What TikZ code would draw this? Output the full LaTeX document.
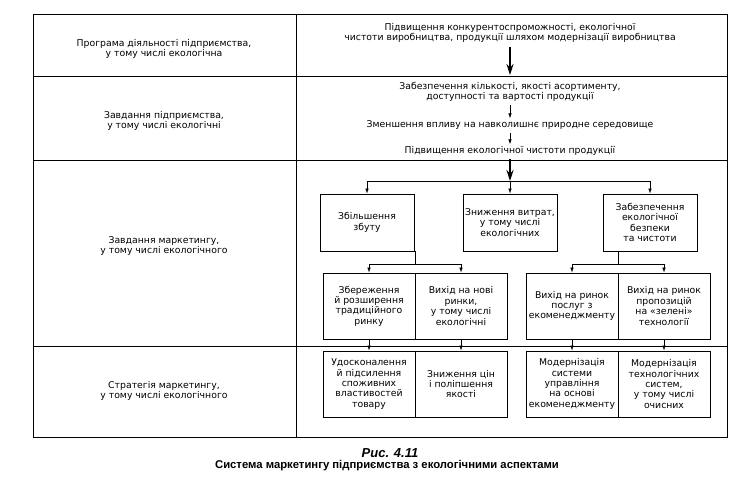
\documentclass[tikz,border=0pt]{standalone}
\usepackage{fontspec}
\setmainfont{DejaVu Sans}
\newfontfamily\capfont{Liberation Sans}
\usetikzlibrary{arrows.meta,calc}
\begin{document}
\begin{tikzpicture}[x=1pt,y=-1pt,
  every node/.style={font=\fontsize{9.3}{10.4}\selectfont, align=center, inner sep=0pt},
  tabline/.style={line width=0.8pt},
  boxstyle/.style={draw, line width=0.8pt, minimum width=94pt, minimum height=57pt},
  cellstyle/.style={draw, line width=0.8pt, minimum width=92pt, minimum height=66pt},
  bigarrow/.style={line width=1.5pt, -{Stealth[length=11pt,width=7pt]}},
  smallarrow/.style={line width=0.6pt, -{Latex[length=5pt,width=3.5pt]}},
  thinline/.style={line width=0.6pt}]
\useasboundingbox (0,0) rectangle (736,477);
% table
\draw[tabline] (33,14) rectangle (727,437);
\draw[tabline] (296,14) -- (296,437);
\draw[tabline] (33,76) -- (727,76);
\draw[tabline] (33,160) -- (727,160);
\draw[tabline] (33,346) -- (727,346);
% left column
\node (l1) at (164,49) {Програма діяльності підприємства,\\у тому числі екологічна};
\node (l2) at (164,121) {Завдання підприємства,\\у тому числі екологічні};
\node (l3) at (164,246) {Завдання маркетингу,\\у тому числі екологічного};
\node (l4) at (164,391) {Стратегія маркетингу,\\у тому числі екологічного};
% right column rows 1-2
\node (r1) at (510,33) {Підвищення конкурентоспроможності, екологічної\\чистоти виробництва, продукції шляхом модернізації виробництва};
\coordinate (d1) at (510,75);
\draw[bigarrow] ([yshift=-4pt]r1.south) -- (d1);
\node (r2a) at (510,92) {Забезпечення кількості, якості асортименту,\\доступності та вартості продукції};
\node (r2b) at (510,125) {Зменшення впливу на навколишнє природне середовище};
\node (r2c) at (510,151) {Підвищення екологічної чистоти продукції};
\draw[smallarrow] ([yshift=-3pt]r2a.south) -- ([yshift=2pt]r2b.north);
\draw[smallarrow] ([yshift=-3pt]r2b.south) -- ([yshift=2pt]r2c.north);
% row 3
\coordinate (br1) at (510,181);
\draw[bigarrow] ([yshift=-3pt]r2c.south) -- (br1);
\node[boxstyle] (b1) at (367,222.5) {Збільшення\\збуту};
\node[boxstyle] (b2) at (510,222.5) {Зниження витрат,\\у тому числі\\екологічних};
\node[boxstyle] (b3) at (650,222.5) {Забезпечення\\екологічної\\безпеки\\та чистоти};
\draw[thinline] (b1.north |- br1) -- (b3.north |- br1);
\draw[smallarrow] (b1.north |- br1) -- (b1.north);
\draw[smallarrow] (b2.north |- br1) -- (b2.north);
\draw[smallarrow] (b3.north |- br1) -- (b3.north);
% pairs A, B
\node[cellstyle] (b4) at (369,306) {Збереження\\й розширення\\традиційного\\ринку};
\node[cellstyle] (b5) at (461,306) {Вихід на нові\\ринки,\\у тому числі\\екологічні};
\node[cellstyle] (b6) at (572,306) {Вихід на ринок\\послуг з\\екоменеджменту};
\node[cellstyle] (b7) at (664,306) {Вихід на ринок\\пропозицій\\на «зелені»\\технології};
\coordinate (j1) at (415,264);
\coordinate (j2) at (618,264);
\draw[thinline] (b1.south -| j1) -- (j1);
\draw[thinline] (b4.north |- j1) -- (b5.north |- j1);
\draw[smallarrow] (b4.north |- j1) -- (b4.north);
\draw[smallarrow] (b5.north |- j1) -- (b5.north);
\draw[thinline] (b3.south -| j2) -- (j2);
\draw[thinline] (b6.north |- j2) -- (b7.north |- j2);
\draw[smallarrow] (b6.north |- j2) -- (b6.north);
\draw[smallarrow] (b7.north |- j2) -- (b7.north);
% row 4
\node[cellstyle] (b8) at (369,384) {Удосконалення\\й підсилення\\споживних\\властивостей\\товару};
\node[cellstyle] (b9) at (461,384) {Зниження цін\\і поліпшення\\якості};
\node[cellstyle] (b10) at (572,384) {Модернізація\\системи\\управління\\на основі\\екоменеджменту};
\node[cellstyle] (b11) at (664,384) {Модернізація\\технологічних\\систем,\\у тому числі\\очисних};
\draw[smallarrow] (b4.south) -- (b8.north);
\draw[smallarrow] (b5.south) -- (b9.north);
\draw[smallarrow] (b6.south) -- (b10.north);
\draw[smallarrow] (b7.south) -- (b11.north);
% caption
\node[font=\capfont\bfseries\itshape\fontsize{13}{14}\selectfont] (fig) at (390,453) {Рис. 4.11};
\node[font=\capfont\bfseries\fontsize{11.3}{12}\selectfont] (cap) at (387,466) {Система маркетингу підприємства з екологічними аспектами};
\end{tikzpicture}
\end{document}
